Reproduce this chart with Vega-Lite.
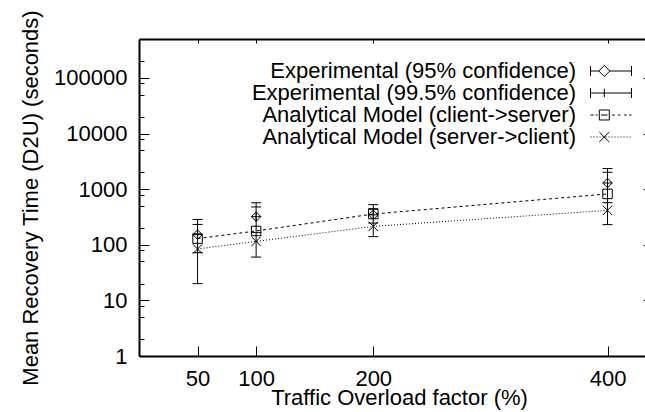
{
  "$schema": "https://vega.github.io/schema/vega-lite/v6.json",
  "width": 506,
  "height": 317,
  "autosize": {"type": "none"},
  "padding": {"left": 139, "top": 39, "right": 0, "bottom": 56},
  "config": {
    "view": {"stroke": null},
    "font": "Liberation Sans",
    "axis": {
      "labelFont": "Liberation Sans", "labelFontSize": 22, "labelColor": "black",
      "titleFont": "Liberation Sans", "titleFontSize": 22, "titleFontWeight": "normal", "titleColor": "black",
      "tickColor": "black", "tickWidth": 1, "domainColor": "black", "domainWidth": 2,
      "grid": false, "labelOverlap": false, "labelBound": false, "labelFlush": false
    },
    "legend": {"labelFont": "Liberation Sans", "labelFontSize": 22, "labelColor": "black", "labelLimit": 0}
  },
  "datasets": {
    "bars": [
      {"x": 50, "lo95": 72, "hi95": 232, "lo995": 20, "hi995": 285},
      {"x": 100, "lo95": 165, "hi95": 478, "lo995": 60, "hi995": 568},
      {"x": 200, "lo95": 245, "hi95": 445, "lo995": 140, "hi995": 526},
      {"x": 400, "lo95": 570, "hi95": 2009, "lo995": 230, "hi995": 2340}
    ],
    "points": [
      {"x": 50, "series": "Experimental (95% confidence)", "y": 152},
      {"x": 100, "series": "Experimental (95% confidence)", "y": 320},
      {"x": 200, "series": "Experimental (95% confidence)", "y": 345},
      {"x": 400, "series": "Experimental (95% confidence)", "y": 1290},
      {"x": 50, "series": "Experimental (99.5% confidence)", "y": 152},
      {"x": 100, "series": "Experimental (99.5% confidence)", "y": 320},
      {"x": 200, "series": "Experimental (99.5% confidence)", "y": 345},
      {"x": 400, "series": "Experimental (99.5% confidence)", "y": 1290},
      {"x": 50, "series": "Analytical Model (client->server)", "y": 129},
      {"x": 100, "series": "Analytical Model (client->server)", "y": 177},
      {"x": 200, "series": "Analytical Model (client->server)", "y": 357},
      {"x": 400, "series": "Analytical Model (client->server)", "y": 820},
      {"x": 50, "series": "Analytical Model (server->client)", "y": 84},
      {"x": 100, "series": "Analytical Model (server->client)", "y": 115},
      {"x": 200, "series": "Analytical Model (server->client)", "y": 214},
      {"x": 400, "series": "Analytical Model (server->client)", "y": 415}
    ]
  },
  "layer": [
    {
      "data": {"name": "bars"},
      "mark": {"type": "rule", "color": "black", "strokeWidth": 1},
      "encoding": {
        "x": {
          "field": "x", "type": "quantitative",
          "scale": {"domain": [0, 432], "nice": false, "zero": false},
          "axis": {
            "orient": "bottom", "values": [50, 100, 200, 400], "tickSize": -10, "labelPadding": 22.5,
            "title": "Traffic Overload factor (%)", "titleX": 260, "titleY": 48.5,
            "titleBaseline": "alphabetic", "titleAlign": "center"
          }
        },
        "y": {
          "field": "lo995", "type": "quantitative",
          "scale": {"type": "log", "domain": [1, 500000], "nice": false},
          "axis": {
            "orient": "left",
            "values": [1, 2, 5, 8, 10, 20, 50, 80, 100, 200, 500, 800, 1000, 2000, 5000, 8000, 10000, 20000, 50000, 80000, 100000, 200000],
            "labelExpr": "indexof([1,10,100,1000,10000,100000], datum.value) >= 0 ? format(datum.value, 'd') : ''",
            "tickSize": {"condition": {"test": "indexof([1,10,100,1000,10000,100000], datum.value) >= 0", "value": -10}, "value": -5},
            "labelPadding": 22,
            "title": "Mean Recovery Time (D2U) (seconds)",
            "titleX": -102, "titleY": 158.5, "titleAngle": -90,
            "titleBaseline": "alphabetic", "titleAlign": "center"
          }
        },
        "y2": {"field": "hi995"}
      }
    },
    {
      "data": {"name": "bars"},
      "transform": [{"fold": ["lo95", "hi95", "lo995", "hi995"], "as": ["bound", "value"]}],
      "mark": {"type": "point", "shape": "M-1,0H1", "size": 100, "filled": false, "stroke": "black", "strokeWidth": 1, "opacity": 1},
      "encoding": {
        "x": {
          "field": "x", "type": "quantitative",
          "axis": {"orient": "top", "values": [50, 100, 200, 400], "tickSize": -4, "labels": false, "title": null}
        },
        "y": {
          "field": "value", "type": "quantitative",
          "axis": {"orient": "right", "values": [1, 10, 100, 1000, 10000, 100000], "tickSize": -2, "labels": false, "domain": false, "title": null}
        }
      }
    },
    {
      "data": {"name": "points"},
      "transform": [{"filter": "indexof(datum.series, 'Analytical') == 0"}],
      "mark": {"type": "line", "color": "black", "strokeWidth": 1},
      "encoding": {
        "x": {"field": "x", "type": "quantitative", "axis": null},
        "y": {"field": "y", "type": "quantitative", "axis": null},
        "strokeDash": {
          "field": "series", "type": "nominal",
          "scale": {"domain": ["Analytical Model (client->server)", "Analytical Model (server->client)"], "range": [[3, 3], [1, 2]]},
          "legend": null
        }
      }
    },
    {
      "data": {"name": "points"},
      "mark": {"type": "point", "filled": false, "stroke": "black", "strokeWidth": 1, "size": 90, "opacity": 1},
      "encoding": {
        "x": {"field": "x", "type": "quantitative", "axis": null},
        "y": {"field": "y", "type": "quantitative", "axis": null},
        "shape": {
          "field": "series", "type": "nominal",
          "scale": {
            "domain": ["Experimental (95% confidence)", "Experimental (99.5% confidence)", "Analytical Model (client->server)", "Analytical Model (server->client)"],
            "range": ["M-1,0L0,-1L1,0L0,1Z", "M-1,0H1M0,-1V1", "M-1,-1H1V1H-1Z", "M-1,-1L1,1M-1,1L1,-1"]
          },
          "legend": null
        }
      }
    },
    {
      "data": {"name": "points"},
      "mark": {"type": "point", "filled": false, "stroke": "black", "strokeWidth": 1, "size": 441, "opacity": 0},
      "encoding": {
        "x": {"field": "x", "type": "quantitative", "axis": null},
        "y": {"field": "y", "type": "quantitative", "axis": null},
        "shape": {
          "field": "series", "type": "nominal",
          "scale": {
            "domain": ["Experimental (95% confidence)", "Experimental (99.5% confidence)", "Analytical Model (client->server)", "Analytical Model (server->client)"],
            "range": [
              "M-1.952,-0.476V0.476M-1.952,0H-1.162M-0.114,0H1.952M1.952,-0.476V0.476M-1.162,0L-0.638,-0.524L-0.114,0L-0.638,0.524Z",
              "M-1.952,-0.476V0.476M-1.952,0H1.952M1.952,-0.476V0.476M-0.638,-0.4V0.4",
              "M-1.952,0H-1.667M-1.476,0H-1.286M-1.114,-0.476H-0.162V0.476H-1.114ZM-0.95,0H-0.33M0.105,0H0.362M0.676,0H0.905M1.248,0H1.476M1.724,0H1.952",
              "M-1.952,0h0.095M-1.666,0h0.095M-1.38,0h0.095M-1.094,0h0.095M-0.808,0h0.095M-0.522,0h0.095M-0.236,0h0.095M0.05,0h0.095M0.336,0h0.095M0.622,0h0.095M0.908,0h0.095M1.194,0h0.095M1.48,0h0.095M1.766,0h0.095M-1.114,-0.476L-0.162,0.476M-1.114,0.476L-0.162,-0.476"
            ]
          },
          "legend": {
            "orient": "none", "legendX": 412, "legendY": 21, "title": null,
            "symbolOffset": 49, "labelOffset": -46, "labelAlign": "right", "rowPadding": 0, "padding": 0,
            "symbolSize": 441, "symbolStrokeWidth": 1, "symbolStrokeColor": "black", "symbolOpacity": 1,
            "symbolFillColor": "transparent", "labelLimit": 0,
            "encode": {"symbols": {"update": {"opacity": {"value": 1}, "stroke": {"value": "black"}, "strokeWidth": {"value": 1}}}}
          }
        }
      }
    }
  ],
  "resolve": {"scale": {"shape": "independent"}, "axis": {"x": "independent", "y": "independent"}}
}
